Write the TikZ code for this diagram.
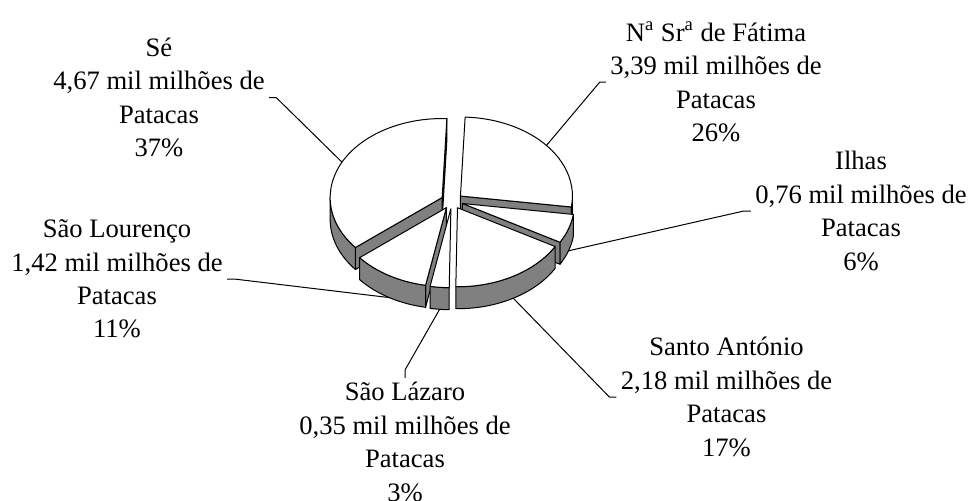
\documentclass[tikz,border=0pt]{standalone}
\usepackage{fontspec}
\setmainfont{Liberation Serif}
\usepackage{tikz}

\begin{document}
\begin{tikzpicture}
[x=0.5pt,y=0.5pt,line width=0.5pt,line join=round,
 every node/.style={align=center,inner sep=2pt,font=\fontsize{13.3}{16.7}\selectfont},
 face/.style={draw,fill=white},
 wall/.style={draw,fill=black!50}]
   \useasboundingbox (0,0) rectangle (971,500);
   % labels
   \node (l_se)  at (159,402.5) {Sé\\4,67 mil milhões de\\Patacas\\37\%};
   \node (l_fat) at (716,418)   {N\textsuperscript{a} Sr\textsuperscript{a} de Fátima\\3,39 mil milhões de\\Patacas\\26\%};
   \node (l_ilh) at (861,289)   {Ilhas\\0,76 mil milhões de\\Patacas\\6\%};
   \node (l_slo) at (117,221)   {São Lourenço\\1,42 mil milhões de\\Patacas\\11\%};
   \node (l_slz) at (405,58)    {São Lázaro\\0,35 mil milhões de\\Patacas\\3\%};
   \node (l_sa)  at (726.5,103) {Santo António\\2,18 mil milhões de\\Patacas\\17\%};
   % pie, back slices first
   \begin{scope}[shift={(452,299)},x radius=112,y radius=79]
    % Fatima
    \begin{scope}[shift={(39.82:11 and 7.76)}]
     \path[wall] (0,0) -- (-7.97:112 and 79) -- ++(0,-22) -- (0,-22) -- cycle;
     \path[wall] (-7.97:112 and 79) arc[start angle=-7.97,end angle=0] -- ++(0,-22) arc[start angle=0,end angle=-7.97] -- cycle;
     \path[face] (0,0) -- (-7.97:112 and 79) arc[start angle=-7.97,end angle=87.6] -- cycle;
     \coordinate (fat) at (39.82:112 and 79);
    \end{scope}
    % Se
    \begin{scope}[shift={(153.42:11 and 7.76)}]
     \path[wall] (0,0) -- (87.6:112 and 79) -- ++(0,-22) -- (0,-22) -- cycle;
     \path[wall] (0,0) -- (-140.75:112 and 79) -- ++(0,-22) -- (0,-22) -- cycle;
     \path[wall] (-180:112 and 79) arc[start angle=-180,end angle=-140.75] -- ++(0,-22) arc[start angle=-140.75,end angle=-180] -- cycle;
     \path[face] (0,0) -- (-140.75:112 and 79) arc[start angle=-140.75,end angle=-272.4] -- cycle;
     \coordinate (se) at (153.42:112 and 79);
    \end{scope}
    % Ilhas
    \begin{scope}[shift={(-18.68:11 and 7.76)}]
     \path[wall] (0,0) -- (-29.39:112 and 79) -- ++(0,-22) -- (0,-22) -- cycle;
     \path[wall] (-29.39:112 and 79) arc[start angle=-29.39,end angle=-7.97] -- ++(0,-22) arc[start angle=-7.97,end angle=-29.39] -- cycle;
     \path[face] (0,0) -- (-29.39:112 and 79) arc[start angle=-29.39,end angle=-7.97] -- cycle;
     \path (-18.68:112 and 79) ++(0,-22) coordinate (ilh);
    \end{scope}
    % Sao Lourenco
    \begin{scope}[shift={(-120.73:11 and 7.76)}]
     \path[wall] (0,0) -- (-100.72:112 and 79) -- ++(0,-22) -- (0,-22) -- cycle;
     \path[wall] (-140.75:112 and 79) arc[start angle=-140.75,end angle=-100.72] -- ++(0,-22) arc[start angle=-100.72,end angle=-140.75] -- cycle;
     \path[face] (0,0) -- (-140.75:112 and 79) arc[start angle=-140.75,end angle=-100.72] -- cycle;
     \path (-120.73:112 and 79) ++(0,-22) coordinate (slo);
    \end{scope}
    % Santo Antonio
    \begin{scope}[shift={(-60.12:11 and 7.76)}]
     \path[wall] (-90.85:112 and 79) arc[start angle=-90.85,end angle=-29.39] -- ++(0,-22) arc[start angle=-29.39,end angle=-90.85] -- cycle;
     \path[face] (0,0) -- (-90.85:112 and 79) arc[start angle=-90.85,end angle=-29.39] -- cycle;
     \path (-60.12:112 and 79) ++(0,-22) coordinate (sa);
    \end{scope}
    % Sao Lazaro
    \begin{scope}[shift={(-95.78:11 and 7.76)}]
     \path[wall] (-100.72:112 and 79) arc[start angle=-100.72,end angle=-90.85] -- ++(0,-22) arc[start angle=-90.85,end angle=-100.72] -- cycle;
     \path[face] (0,0) -- (-100.72:112 and 79) arc[start angle=-100.72,end angle=-90.85] -- cycle;
     \path (-95.78:112 and 79) ++(0,-22) coordinate (slz);
    \end{scope}
   \end{scope}
   % leader lines
   \draw (l_se.east) -- ++(7,0) -- (se);
   \draw (l_fat.west) -- ++(-6,0) -- (fat);
   \draw (l_ilh.west) -- ++(-7,0) -- (ilh);
   \draw (l_slo.east) -- ++(7,0) -- (slo);
   \draw (l_sa.west) -- ++(-7,0) -- (sa);
   \draw (l_slz.north) -- ++(0,8) -- (slz);
\end{tikzpicture}
\end{document}
